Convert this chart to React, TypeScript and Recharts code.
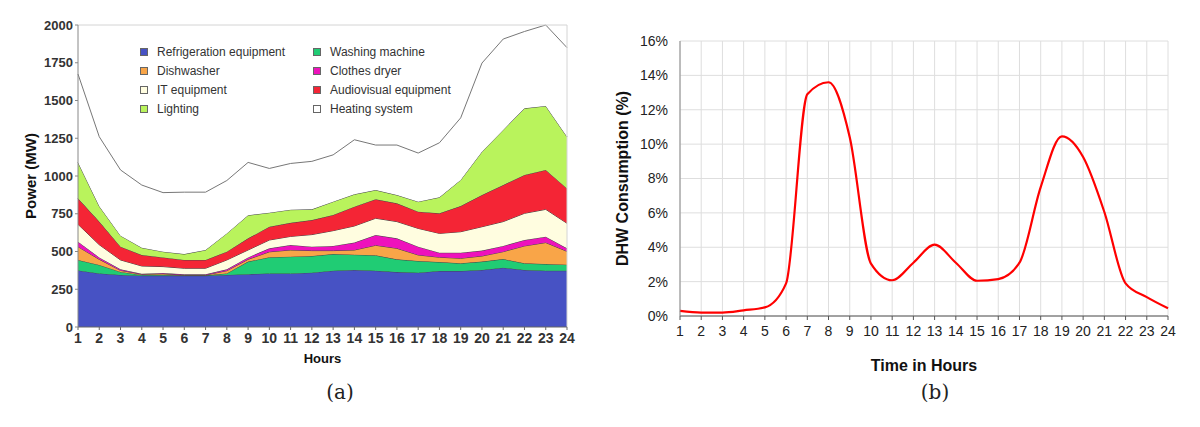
import {
  Area,
  AreaChart,
  CartesianGrid,
  Label,
  Legend,
  Line,
  LineChart,
  ReferenceLine,
  XAxis,
  YAxis,
} from "recharts";

const hours = [1, 2, 3, 4, 5, 6, 7, 8, 9, 10, 11, 12, 13, 14, 15, 16, 17, 18, 19, 20, 21, 22, 23, 24];

// power per end use (MW), stacked bottom to top
const refrigeration = [375, 355, 345, 340, 340, 340, 340, 345, 350, 355, 355, 360, 373, 378, 373, 364, 360, 371, 371, 378, 393, 378, 373, 373];
const washingMachine = [69, 56, 20, 5, 5, 2, 2, 10, 83, 107, 111, 110, 110, 101, 102, 84, 77, 59, 51, 55, 57, 44, 44, 40];
const dishwasher = [88, 37, 10, 4, 7, 2, 2, 18, 15, 36, 44, 36, 23, 31, 66, 73, 40, 32, 33, 37, 49, 115, 142, 88];
const clothesDryer = [33, 13, 7, 4, 6, 5, 5, 9, 13, 23, 33, 26, 31, 49, 68, 66, 55, 30, 37, 36, 38, 39, 39, 20];
const itEquipment = [115, 84, 62, 51, 42, 40, 40, 62, 49, 55, 57, 80, 101, 110, 111, 111, 121, 128, 139, 158, 161, 177, 181, 166];
const audiovisual = [172, 153, 88, 73, 61, 55, 55, 55, 77, 88, 90, 96, 104, 128, 126, 121, 111, 133, 170, 210, 242, 254, 261, 231];
const lighting = [238, 102, 73, 48, 38, 39, 66, 121, 153, 93, 87, 71, 88, 82, 61, 55, 66, 106, 173, 287, 365, 441, 424, 342];
const heating = [585, 460, 435, 415, 391, 410, 383, 350, 350, 293, 306, 318, 310, 361, 298, 331, 322, 361, 411, 587, 602, 509, 536, 590];

const powerTicks = [0, 250, 500, 750, 1000, 1250, 1500, 1750, 2000];

// domestic hot water consumption (% of daily use)
const dhwConsumption = [0.3, 0.2, 0.2, 0.33, 0.5, 1.9, 12.9, 13.6, 10.4, 3.05, 2.08, 3.1, 4.15, 3.1, 2.05, 2.15, 3.1, 7.5, 10.45, 9.25, 6.05, 1.9, 1.1, 0.45];
const dhwTicks = [0, 2, 4, 6, 8, 10, 12, 14, 16];

const series = [
  { key: "refrigeration", name: "Refrigeration equipment", color: "#4752c4" },
  { key: "washingMachine", name: "Washing machine", color: "#20cc74" },
  { key: "dishwasher", name: "Dishwasher", color: "#f9a548" },
  { key: "clothesDryer", name: "Clothes dryer", color: "#ee12bc" },
  { key: "itEquipment", name: "IT equipment", color: "#fffde0" },
  { key: "audiovisual", name: "Audiovisual equipment", color: "#f42535" },
  { key: "lighting", name: "Lighting", color: "#b9f35c" },
  { key: "heating", name: "Heating system", color: "#ffffff" },
];

const powerData = hours.map((hour, i) => ({
  hour,
  refrigeration: refrigeration[i],
  washingMachine: washingMachine[i],
  dishwasher: dishwasher[i],
  clothesDryer: clothesDryer[i],
  itEquipment: itEquipment[i],
  audiovisual: audiovisual[i],
  lighting: lighting[i],
  heating: heating[i],
}));

const dhwData = hours.map((hour, i) => ({ hour, value: dhwConsumption[i] }));

const font = "'Liberation Sans', Arial, sans-serif";

function PowerLegend() {
  return (
    <div style={{ display: "grid", gridTemplateColumns: "173px 173px", fontFamily: font }}>
      {series.map((s) => (
        <div
          key={s.key}
          style={{ display: "flex", alignItems: "center", height: 19, fontSize: 12, color: "#333" }}
        >
          <span
            style={{
              display: "inline-block",
              width: 8,
              height: 8,
              boxSizing: "border-box",
              background: s.color,
              border: "1px solid #666",
              marginRight: 9,
            }}
          />
          {s.name}
        </div>
      ))}
    </div>
  );
}

export default function App() {
  return (
    <div style={{ position: "absolute", left: 0, top: 0, width: 1200, height: 427, background: "#fff" }}>
      <div style={{ position: "absolute", left: 0, top: 0 }}>
        <AreaChart
          width={600}
          height={380}
          data={powerData}
          margin={{ top: 25, right: 33, left: 18, bottom: 23 }}
          style={{ fontFamily: font }}
        >
          <XAxis
            dataKey="hour"
            type="number"
            domain={[1, 24]}
            ticks={hours}
            interval={0}
            height={30}
            tickSize={3}
            tickMargin={3}
            stroke="#666"
            tick={{ fill: "#333", fontSize: 14, fontWeight: "bold" }}
          >
            <Label value="Hours" position="center" dy={16} style={{ fill: "#111", fontSize: 13, fontWeight: "bold" }} />
          </XAxis>
          <YAxis
            type="number"
            domain={[0, 2000]}
            ticks={powerTicks}
            width={60}
            tickSize={3}
            tickMargin={2}
            stroke="#888"
            tick={{ fill: "#333", fontSize: 13, fontWeight: "bold" }}
          >
            <Label
              value="Power (MW)"
              angle={-90}
              position="center"
              dx={-17}
              style={{ fill: "#111", fontSize: 15, fontWeight: "bold", textAnchor: "middle" }}
            />
          </YAxis>
          {series.map((s) => (
            <Area
              key={s.key}
              dataKey={s.key}
              name={s.name}
              stackId="power"
              type="linear"
              fill={s.color}
              fillOpacity={1}
              stroke={s.key === "heating" ? "#777" : "#444"}
              strokeWidth={1}
              isAnimationActive={false}
            />
          ))}
          <ReferenceLine y={2000} stroke="#d4d4d4" />
          <ReferenceLine x={24} stroke="#d4d4d4" />
          <Legend
            layout="horizontal"
            verticalAlign="middle"
            align="center"
            content={() => <PowerLegend />}
            wrapperStyle={{ top: 42, left: 140, width: 346 }}
          />
        </AreaChart>
      </div>

      <div style={{ position: "absolute", left: 600, top: 0 }}>
        <LineChart
          width={600}
          height={380}
          data={dhwData}
          margin={{ top: 41, right: 32, left: 20, bottom: 34 }}
          style={{ fontFamily: font }}
        >
          <CartesianGrid stroke="#dedede" />
          <XAxis
            dataKey="hour"
            type="number"
            domain={[1, 24]}
            ticks={hours}
            interval={0}
            height={30}
            tickSize={4}
            tickMargin={6}
            stroke="#555"
            tick={{ fill: "#222", fontSize: 14 }}
          >
            <Label value="Time in Hours" position="center" dy={34} style={{ fill: "#111", fontSize: 16, fontWeight: "bold" }} />
          </XAxis>
          <YAxis
            type="number"
            domain={[0, 16]}
            ticks={dhwTicks}
            width={60}
            tickSize={0}
            tickMargin={12}
            stroke="#888"
            tickFormatter={(v) => `${v}%`}
            tick={{ fill: "#222", fontSize: 14 }}
          >
            <Label
              value="DHW Consumption (%)"
              angle={-90}
              position="center"
              dx={-28}
              style={{ fill: "#111", fontSize: 16, fontWeight: "bold", textAnchor: "middle" }}
            />
          </YAxis>
          <Line
            dataKey="value"
            type="monotone"
            stroke="#ff0000"
            strokeWidth={2.2}
            dot={false}
            isAnimationActive={false}
          />
        </LineChart>
      </div>

      <div style={{ position: "absolute", left: 300, top: 380, width: 80, textAlign: "center", fontFamily: "'DejaVu Serif', serif", fontSize: 20, color: "#222" }}>
        (a)
      </div>
      <div style={{ position: "absolute", left: 895, top: 380, width: 80, textAlign: "center", fontFamily: "'DejaVu Serif', serif", fontSize: 20, color: "#222" }}>
        (b)
      </div>
    </div>
  );
}
